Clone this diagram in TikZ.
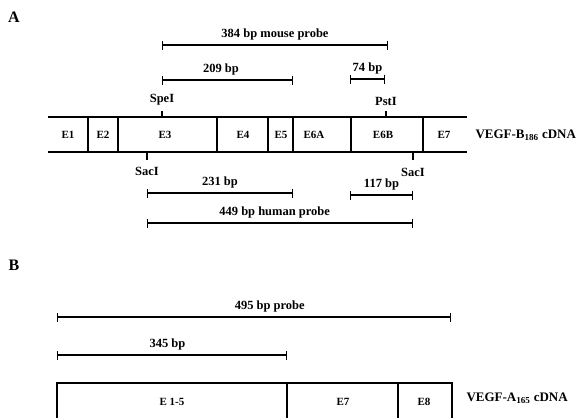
\documentclass[tikz,border=0pt]{standalone}
\usepackage{fontspec}
\setmainfont{Liberation Serif}
\usetikzlibrary{arrows.meta}

\begin{document}
\begin{tikzpicture}[x=1pt,y=-1pt,
  lbl/.style={font=\bfseries\fontsize{12.5}{14}\selectfont},
  exon/.style={font=\bfseries\fontsize{11}{13}\selectfont},
  panel/.style={font=\bfseries\fontsize{16}{18}\selectfont},
  cdna/.style={anchor=west,font=\bfseries\fontsize{13}{15}\selectfont},
  bp/.style={line width=1.2pt,{Bar[width=9pt]}-{Bar[width=9pt]}},
  strip/.style={line width=1.2pt}]
\useasboundingbox (0,0) rectangle (579,418);

\node[panel] (pA) at (14,17) {A};
\node[panel] (pB) at (14,265) {B};

% VEGF-B186 cDNA
\draw[strip] (48,117) -- (467,117);
\draw[strip] (48,152) -- (467,152);
\foreach \x in {88,118,217,268,293,351,423}
  \draw[strip] (\x,117) -- (\x,152);
\node[exon] (e1) at (68,135) {E1};
\node[exon] (e2) at (103,135) {E2};
\node[exon] (e3) at (165,135) {E3};
\node[exon] (e4) at (243,135) {E4};
\node[exon] (e5) at (281,135) {E5};
\node[exon] (e6a) at (314,135) {E6A};
\node[exon] (e6b) at (383,135) {E6B};
\node[exon] (e7) at (444,135) {E7};
\node[cdna] (vb) at (472,135) {VEGF-B\textsubscript{186} cDNA};

% restriction sites
\node[lbl] (spe) at (162,100) {SpeI};
\node[lbl] (pst) at (386,101) {PstI};
\node[lbl] (sac1) at (147,171) {SacI};
\node[lbl] (sac2) at (413,172) {SacI};
\coordinate (speT) at (162,117);
\coordinate (pstT) at (386,117);
\coordinate (sac1T) at (147,152);
\coordinate (sac2T) at (413,152);
\draw[strip] (speT) -- ++(0,-6);
\draw[strip] (pstT) -- ++(0,-6);
\draw[strip] (sac1T) -- ++(0,8);
\draw[strip] (sac2T) -- ++(0,8);

% mouse probe
\coordinate (m1) at (162,45);
\coordinate (m2) at (388,45);
\draw[bp] (m1) -- node[lbl,above=1pt] {384 bp mouse probe} (m2);
\coordinate (m3) at (162,80);
\coordinate (m4) at (293,80);
\draw[bp] (m3) -- node[lbl,above=1pt,pos=0.45] {209 bp} (m4);
\coordinate (m5) at (350,79);
\coordinate (m6) at (385,79);
\draw[bp] (m5) -- node[lbl,above=1pt] {74 bp} (m6);

% human probe
\coordinate (h1) at (147,193);
\coordinate (h2) at (293,193);
\draw[bp] (h1) -- node[lbl,above=1pt] {231 bp} (h2);
\coordinate (h3) at (350,195);
\coordinate (h4) at (413,195);
\draw[bp] (h3) -- node[lbl,above=1pt] {117 bp} (h4);
\coordinate (h5) at (147,223);
\coordinate (h6) at (413,223);
\draw[bp] (h5) -- node[lbl,above=1pt,pos=0.48] {449 bp human probe} (h6);

% VEGF-A165 cDNA
\coordinate (a1) at (57,317);
\coordinate (a2) at (451,317);
\draw[bp] (a1) -- node[lbl,above=1pt,pos=0.54] {495 bp probe} (a2);
\coordinate (a3) at (57,355);
\coordinate (a4) at (287,355);
\draw[bp] (a3) -- node[lbl,above=1pt,pos=0.48] {345 bp} (a4);

\draw[strip] (57,420) -- (57,383) -- (452,383) -- (452,420);
\foreach \x in {287,398}
  \draw[strip] (\x,383) -- (\x,420);
\node[exon] (b15) at (172,402) {E 1-5};
\node[exon] (b7) at (343,402) {E7};
\node[exon] (b8) at (424,402) {E8};
\node[cdna] (va) at (463,398) {VEGF-A\textsubscript{165} cDNA};
\end{tikzpicture}
\end{document}
